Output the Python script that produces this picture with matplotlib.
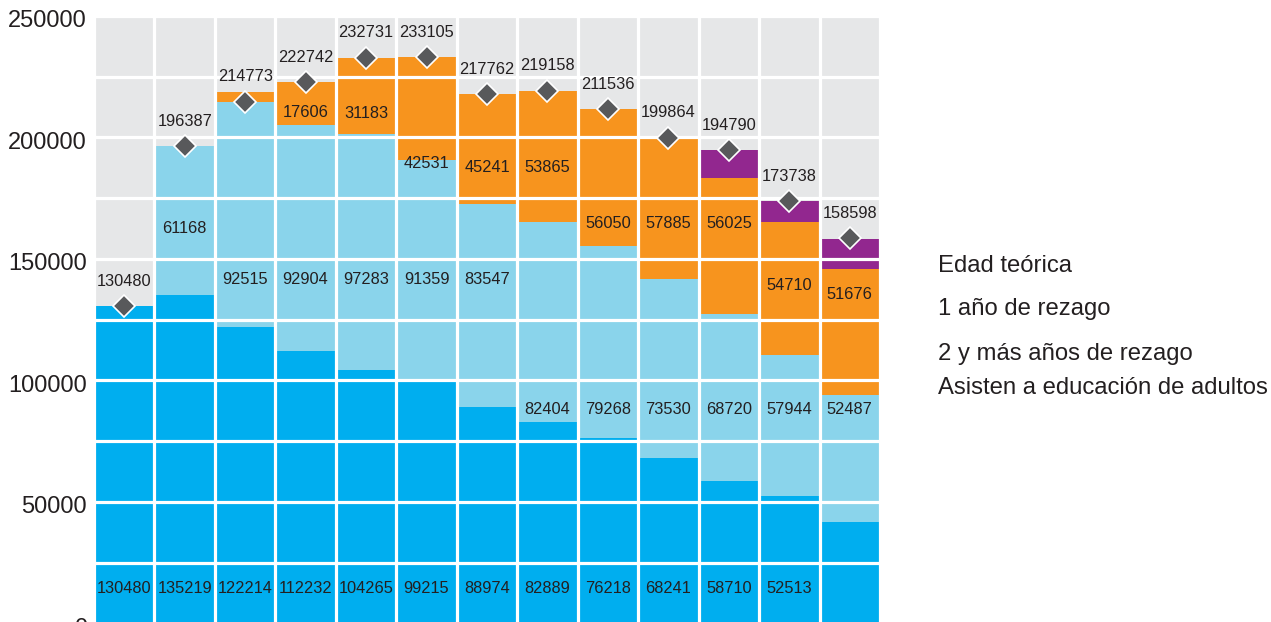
import matplotlib
matplotlib.use("Agg")
import matplotlib.pyplot as plt
from matplotlib.ticker import MultipleLocator
from matplotlib.transforms import ScaledTranslation
import numpy as np

# Matrícula por grupo, en número de alumnos
edad_teorica = [130480, 135219, 122214, 112232, 104265, 99215, 88974, 82889, 76218, 68241, 58710, 52513, 41700]
rezago_1 = [0, 61168, 92515, 92904, 97283, 91359, 83547, 82404, 79268, 73530, 68720, 57944, 52487]
rezago_2 = [0, 0, 4000, 17606, 31183, 42531, 45241, 53865, 56050, 57885, 56025, 54710, 51676]
adultos = [0, 0, 0, 0, 0, 0, 0, 0, 0, 208, 11335, 8571, 12435]
totales = [130480, 196387, 214773, 222742, 232731, 233105, 217762, 219158, 211536, 199864, 194790, 173738, 158598]

# which segments carry a printed value
show_edad = [True] * 12 + [False]
show_r1 = [False] + [True] * 12
show_r2 = [False, False, False] + [True] * 10

series_names = ["Edad teórica", "1 año de rezago", "2 y más años de rezago",
                "Asisten a educación de adultos"]

# vertical placement of the in-bar values (data units)
lab_y_edad = 14200
lab_y_r1 = [None, 162500] + [141500] * 5 + [88100] * 6
lab_y_r2 = [None, None, None, 210100, 209700, 189200, 187500, 187500,
            164500, 164500, 164500, 139000, 135400]

colors = ["#00AEEF", "#8AD4EB", "#F7941E", "#92278F"]
bg = "#E6E7E8"
txt = "#231F20"

plt.rcParams["font.family"] = ["Liberation Sans", "DejaVu Sans"]

fig = plt.figure(figsize=(12.71, 6.22), dpi=100)
ax = fig.add_axes([94 / 1271, -0.0024, (880 - 94) / 1271, 0.9767])
ax.set_facecolor(bg)

x = np.arange(len(totales))
bottom = np.zeros(len(x))
for vals, c in zip([edad_teorica, rezago_1, rezago_2, adultos], colors):
    ax.bar(x, vals, width=1.0, bottom=bottom, color=c, linewidth=0, zorder=1)
    bottom += np.array(vals)

ax.plot(x, totales, linestyle="none", marker="D", markersize=11.5,
        markerfacecolor="#58595B", markeredgecolor="white", markeredgewidth=1.2, zorder=4)

lab_font = dict(fontsize=11.8, color=txt, ha="center", va="center", zorder=5)
for i in x:
    ax.annotate(str(totales[i]), (i, totales[i]), xytext=(0, 18),
                textcoords="offset points", **lab_font)
    if show_edad[i]:
        ax.text(i, lab_y_edad, str(edad_teorica[i]), **lab_font)
    if show_r1[i]:
        ax.text(i, lab_y_r1[i], str(rezago_1[i]), **lab_font)
    if show_r2[i]:
        ax.text(i, lab_y_r2[i], str(rezago_2[i]), **lab_font)

ax.set_xlim(-0.5, len(x) - 0.5)
ax.set_ylim(0, 250000)
ax.yaxis.set_major_locator(MultipleLocator(50000))
ax.yaxis.set_minor_locator(MultipleLocator(25000))
ax.xaxis.set_major_locator(MultipleLocator(1))
ax.xaxis.set_minor_locator(MultipleLocator(1, offset=0.5))
ax.set_axisbelow(False)
ax.grid(which="minor", color="white", linewidth=2.3)
ax.grid(which="major", axis="y", color="white", linewidth=2.3)
ax.tick_params(axis="both", which="both", length=0)
ax.tick_params(axis="y", labelsize=17, labelcolor=txt, pad=5)
ax.set_xticklabels([])
# nudge the y labels down a touch
shift = ScaledTranslation(0, -3 / 100, fig.dpi_scale_trans)
for lbl in ax.get_yticklabels():
    lbl.set_transform(lbl.get_transform() + shift)
for s in ax.spines.values():
    s.set_visible(False)

# text-only legend to the right
for name, yy in zip(series_names, [266, 309, 354, 388]):
    fig.text(938 / 1271, 1 - yy / 622, name, fontsize=17.2, color=txt,
             ha="left", va="center")

fig.savefig("out.png", dpi=100)
